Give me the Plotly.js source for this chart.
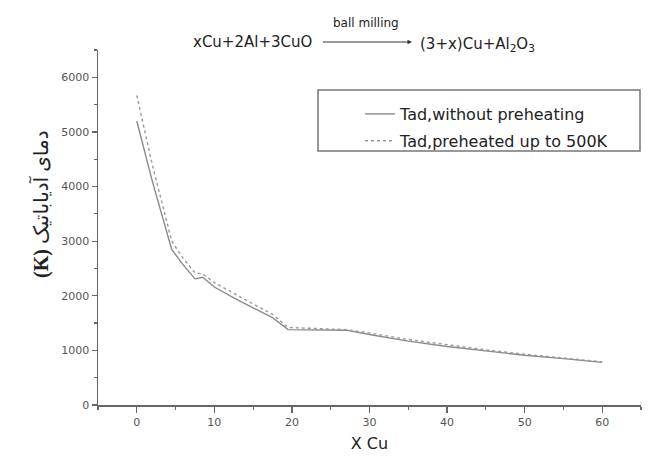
<!DOCTYPE html>
<html>
<head>
<meta charset="utf-8">
<script src="https://cdn.plot.ly/plotly-3.0.1.min.js"></script>
<style>html,body{margin:0;padding:0;background:#fff;}#chart{width:650px;height:458px;}</style>
</head>
<body>
<div id="chart"></div>
<script>
// Data
const xSolid = [0, 2, 4.5, 6, 7.5, 8.5, 10, 12.5, 15, 17.5, 19.5, 27, 30, 35, 40, 45, 50, 55, 60];
const tSolid = [5200, 4100, 2850, 2560, 2310, 2340, 2160, 1960, 1780, 1600, 1380, 1370, 1290, 1170, 1070, 990, 910, 850, 780];
const xDotted = [0, 2, 4.5, 6, 7.5, 8.5, 10, 12.5, 15, 17.5, 19.5, 27, 30, 35, 40, 45, 50, 55, 60];
const tDotted = [5670, 4400, 3000, 2680, 2420, 2400, 2240, 2040, 1850, 1660, 1420, 1380, 1320, 1200, 1100, 1010, 930, 860, 790];
const seriesNames = ["Tad,without preheating", "Tad,preheated up to 500K"];
const xTicks = [0, 10, 20, 30, 40, 50, 60];
const yTicks = [0, 1000, 2000, 3000, 4000, 5000, 6000];

const FONT = "DejaVu Sans, Liberation Sans, Arial, sans-serif";
const px = v => (v - 98) / 543;     // pixel x -> paper
const py = v => (405 - v) / 355;    // pixel y -> paper

const axisCommon = {
  showline: true, linecolor: "#666", linewidth: 1.5,
  ticks: "outside", tickcolor: "#666", tickwidth: 1.2,
  showgrid: false, zeroline: false,
  tickfont: {family: FONT, size: 11, color: "#555"},
};

const traces = [
  {x: xSolid, y: tSolid, mode: "lines", name: seriesNames[0], legendgroup: "a",
   line: {color: "#8a8a8a", width: 1.4}},
  {x: xDotted, y: tDotted, mode: "lines", name: seriesNames[1], legendgroup: "b",
   line: {color: "#999", width: 1.4, dash: "dot"}}
];

const layout = {
  width: 650, height: 458,
  margin: {l: 98, r: 9, t: 50, b: 53},
  paper_bgcolor: "#fff", plot_bgcolor: "#fff",
  showlegend: true,
  xaxis: Object.assign({}, axisCommon, {
    range: [-5, 65], tickvals: xTicks, ticklen: 6,
    minor: {ticks: "outside", dtick: 5, tick0: 0, ticklen: 3, tickcolor: "#666"},
    title: {text: "X Cu", font: {family: FONT, size: 16, color: "#222"}, standoff: 10}
  }),
  yaxis: Object.assign({}, axisCommon, {
    range: [0, 6500], tickvals: yTicks, ticklen: 5,
    minor: {ticks: "outside", dtick: 500, tick0: 0, ticklen: 3, tickcolor: "#666"}
  }),
  legend: {
    x: px(360), y: py(97), xanchor: "left", yanchor: "top",
    bgcolor: "rgba(0,0,0,0)", borderwidth: 0,
    font: {family: FONT, size: 16, color: "#222"},
    traceorder: "grouped", tracegroupgap: 3
  },
  shapes: [
    {type: "rect", xref: "paper", yref: "paper", x0: px(318), x1: px(640), y0: py(90), y1: py(151),
     line: {color: "#777", width: 1.5}, fillcolor: "rgba(0,0,0,0)", layer: "below"}
  ],
  annotations: [
    {xref: "paper", yref: "paper", x: px(314), y: py(42),
     xanchor: "right", yanchor: "middle", showarrow: false,
     text: "xCu+2Al+3CuO", font: {family: FONT, size: 15, color: "#222"}},
    {xref: "paper", yref: "paper", x: px(366), y: py(23),
     xanchor: "center", yanchor: "middle", showarrow: false,
     text: "ball milling", font: {family: FONT, size: 12, color: "#222"}},
    {xref: "paper", yref: "paper", x: px(412), y: py(42),
     showarrow: true, ax: -92, ay: 0, arrowhead: 2, arrowsize: 0.9, arrowwidth: 1,
     arrowcolor: "#333", text: " "},
    {xref: "paper", yref: "paper", x: px(418), y: py(44),
     xanchor: "left", yanchor: "middle", showarrow: false,
     text: "(3+x)Cu+Al<sub>2</sub>O<sub>3</sub>", font: {family: FONT, size: 15, color: "#222"}},
    {xref: "paper", yref: "paper", x: px(40), y: py(204),
     xanchor: "center", yanchor: "middle", showarrow: false, textangle: -90,
     text: "<b>(K)</b> دمای آدیاباتیک", font: {family: "Liberation Serif, DejaVu Sans, serif", size: 20, color: "#222"}}
  ]
};

Plotly.newPlot("chart", traces, layout, {displayModeBar: false, staticPlot: true});
</script>
</body>
</html>
